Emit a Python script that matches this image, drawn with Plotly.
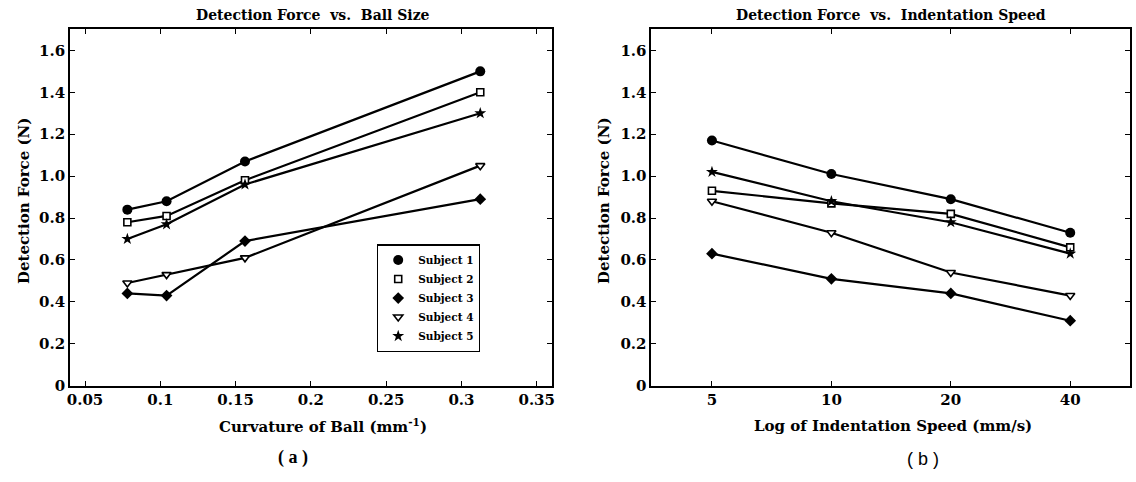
import plotly.graph_objects as go

# Panel (a): detection force vs. ball curvature (1/radius, mm^-1)
curvature = [0.078125, 0.104167, 0.15625, 0.3125]
force_a = {
    "Subject 1": [0.84, 0.88, 1.07, 1.50],
    "Subject 2": [0.78, 0.81, 0.98, 1.40],
    "Subject 3": [0.44, 0.43, 0.69, 0.89],
    "Subject 4": [0.49, 0.53, 0.61, 1.05],
    "Subject 5": [0.70, 0.77, 0.96, 1.30],
}

# Panel (b): detection force vs. indentation speed (mm/s, log axis)
speed = [5, 10, 20, 40]
force_b = {
    "Subject 1": [1.17, 1.01, 0.89, 0.73],
    "Subject 2": [0.93, 0.87, 0.82, 0.66],
    "Subject 3": [0.63, 0.51, 0.44, 0.31],
    "Subject 4": [0.88, 0.73, 0.54, 0.43],
    "Subject 5": [1.02, 0.88, 0.78, 0.63],
}

y_ticks = [0, 0.2, 0.4, 0.6, 0.8, 1.0, 1.2, 1.4, 1.6]
y_ticktext = ["0", "0.2", "0.4", "0.6", "0.8", "1.0", "1.2", "1.4", "1.6"]
xa_ticks = [0.05, 0.1, 0.15, 0.2, 0.25, 0.3, 0.35]
xa_ticktext = ["0.05", "0.1", "0.15", "0.2", "0.25", "0.3", "0.35"]
xb_ticks = [5, 10, 20, 40]
xb_ticktext = ["5", "10", "20", "40"]

SERIF = "DejaVu Serif"
BLACK = "#000000"
NB = "\u00a0"

marker_styles = {
    "Subject 1": dict(symbol="circle", size=10, color=BLACK, line=dict(color=BLACK, width=0)),
    "Subject 2": dict(symbol="square", size=7, color="white", line=dict(color=BLACK, width=1.6)),
    "Subject 3": dict(symbol="diamond", size=9, color=BLACK, line=dict(color=BLACK, width=0)),
    "Subject 4": dict(symbol="triangle-down", size=8, color="white", line=dict(color=BLACK, width=1.6)),
    "Subject 5": dict(symbol="star", size=9, color=BLACK, line=dict(color=BLACK, width=0)),
}

fig = go.Figure()


def add_panel(xs, series, xaxis, yaxis, legend):
    # connecting lines first, then markers on top
    for name, ys in series.items():
        fig.add_trace(go.Scatter(
            x=xs, y=ys, mode="lines", xaxis=xaxis, yaxis=yaxis,
            line=dict(color=BLACK, width=2.2), showlegend=False, hoverinfo="skip",
        ))
    for name, ys in series.items():
        fig.add_trace(go.Scatter(
            x=xs, y=ys, mode="markers", name=name, xaxis=xaxis, yaxis=yaxis,
            marker=marker_styles[name], showlegend=legend,
        ))


add_panel(curvature, force_a, "x", "y", True)
add_panel(speed, force_b, "x2", "y2", False)

W, H = 1136, 482
top_px, bot_px = 30, 393
ydom = [1 - bot_px / H, 1 - top_px / H]

axis_common = dict(
    showline=True, linecolor=BLACK, linewidth=1.5, mirror="ticks",
    ticks="inside", ticklen=5, tickwidth=1, tickcolor=BLACK,
    showgrid=False, zeroline=False,
    tickfont=dict(family=SERIF, size=15, color=BLACK, weight="bold"),
)

fig.update_layout(
    width=W, height=H,
    margin=dict(l=0, r=0, t=0, b=0),
    paper_bgcolor="white", plot_bgcolor="white",
    font=dict(family=SERIF, color=BLACK),
    xaxis=dict(domain=[67.3 / W, 551.7 / W], range=[0.04, 0.36],
               tickvals=xa_ticks, ticktext=xa_ticktext, anchor="y", **axis_common),
    yaxis=dict(domain=ydom, range=[0, 1.7], tickvals=y_ticks, ticktext=y_ticktext,
               anchor="x", **axis_common),
    xaxis2=dict(domain=[651.7 / W, 1132.7 / W], type="log", range=[0.546, 1.752],
                tickvals=xb_ticks, ticktext=xb_ticktext, anchor="y2", **axis_common),
    yaxis2=dict(domain=ydom, range=[0, 1.7], tickvals=y_ticks, ticktext=y_ticktext,
                anchor="x2", **axis_common),
    legend=dict(
        x=376 / W, y=1 - 249 / H, xanchor="left", yanchor="top",
        bordercolor=BLACK, borderwidth=1.2, bgcolor="white",
        font=dict(family=SERIF, size=10.5, color=BLACK, weight="bold"),
        itemwidth=30, tracegroupgap=0,
    ),
)


def label(text, x, y, size, angle=0, family=SERIF, bold=True):
    fig.add_annotation(
        text=text, x=x / W, y=1 - y / H, xref="paper", yref="paper",
        showarrow=False, textangle=angle, xanchor="center", yanchor="middle",
        font=dict(family=family, size=size, color=BLACK, weight="bold" if bold else "normal"),
    )


label(f"Detection Force{NB} vs.{NB} Ball Size", 312, 15, 14)
label(f"Detection Force{NB} vs.{NB} Indentation Speed", 893, 15, 14)
label("Curvature of Ball (mm<sup>-1</sup>)", 322, 434, 15)
label("Log of Indentation Speed (mm/s)", 895, 434, 15)
label("Detection Force (N)", 21, 205, 15, angle=-90)
label("Detection Force (N)", 604, 205, 15, angle=-90)
label("( a )", 292, 466, 18, family="Liberation Serif")
label("( b )", 925, 468, 18, family="Liberation Sans", bold=False)

fig.write_html("out.html")
